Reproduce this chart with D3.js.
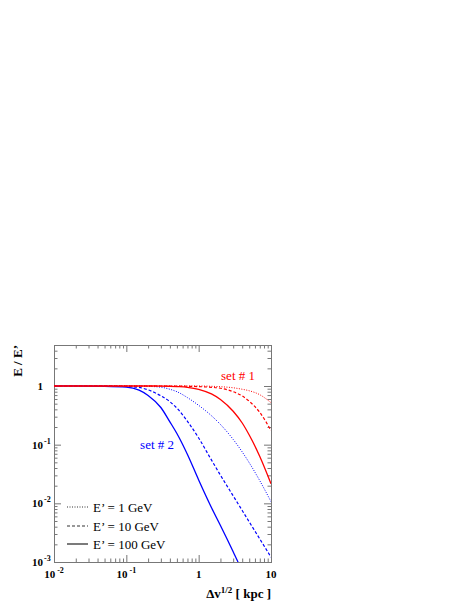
<!DOCTYPE html>
<html>
<head>
<meta charset="utf-8">
<script src="https://cdn.jsdelivr.net/npm/d3@7"></script>
<style>
  body { margin: 0; background: #fff; }
  text { font-family: "Liberation Serif", "Times New Roman", serif; }
</style>
</head>
<body>
<div id="chartDiv"></div>
<script>
  // values (E/E' against sqrt(delta v) in kpc)
  const xVals = [0.01, 0.02, 0.05, 0.1, 0.15, 0.2, 0.3, 0.4, 0.5, 0.7, 1, 1.5, 2, 3, 4, 5, 7, 10];

  // set # 2 (blue)
  const set2_1GeV = [1, 1, 1, 1, 0.995, 0.986, 0.955, 0.88, 0.80, 0.634, 0.468, 0.312, 0.221, 0.123, 0.0752, 0.0492, 0.0243, 0.0107];
  const set2_10GeV = [1, 1, 0.995, 0.98, 0.945, 0.86, 0.68, 0.54, 0.42, 0.25, 0.13, 0.055, 0.0302, 0.0134, 0.00755, 0.00483, 0.00247, 0.00121];
  const set2_100GeV = [1, 1, 0.99, 0.96, 0.85, 0.69, 0.43, 0.245, 0.155, 0.068, 0.025, 0.0085, 0.0042, 0.0015, 0.0007, 0.0004, null, null];

  // set # 1 (red)
  const set1_1GeV = [1, 1, 1, 1, 1, 1, 1, 1, 1, 1, 1, 0.989, 0.973, 0.933, 0.88, 0.83, 0.71, 0.52];
  const set1_10GeV = [1, 1, 1, 1, 1, 1, 1, 0.999, 0.997, 0.99, 0.977, 0.95, 0.916, 0.80, 0.676, 0.55, 0.355, 0.174];
  const set1_100GeV = [1, 1, 1, 1, 1, 1, 0.999, 0.989, 0.977, 0.95, 0.88, 0.733, 0.59, 0.371, 0.234, 0.146, 0.063, 0.0216];

  const legendLabels = ["E\u2019 = 1 GeV", "E\u2019 = 10 GeV", "E\u2019 = 100 GeV"];
  const xMajor = [0.01, 0.1, 1, 10];
  const yMajor = [0.001, 0.01, 0.1, 1];

  // set the dimensions and margins of the graph
  const margin = {top: 345, right: 197, bottom: 43, left: 54},
      width = 468 - margin.left - margin.right,
      height = 605 - margin.top - margin.bottom;

  const svg = d3.select("#chartDiv")
      .append("svg")
      .attr("width", 468)
      .attr("height", 605)
      .append("g")
      .attr("transform", "translate(" + margin.left + "," + margin.top + ")");

  const x = d3.scaleLog().domain([0.01, 10]).range([0, width]);
  const y = d3.scaleLog().domain([0.001, 5]).range([height, 0]);

  // minor ticks 2..9 in every decade
  const minorTicks = (lo, hi) => {
      const out = [];
      for (let p = lo; p < hi; p++) {
          for (let k = 2; k <= 9; k++) out.push(k * Math.pow(10, p));
      }
      return out;
  };
  const xMinor = minorTicks(-2, 1);
  const yMinor = minorTicks(-3, 1).filter(v => v < 5);

  const axisColor = "#777";

  function styleAxis(g) {
      g.select(".domain").attr("stroke", axisColor);
      g.selectAll(".tick line").attr("stroke", axisColor);
  }

  // ticks on all four sides, pointing inward
  const axes = [
      {ax: d3.axisBottom(x), pos: "translate(0," + height + ")", major: xMajor, minor: xMinor},
      {ax: d3.axisTop(x), pos: "translate(0,0)", major: xMajor, minor: xMinor},
      {ax: d3.axisLeft(y), pos: "translate(0,0)", major: yMajor, minor: yMinor},
      {ax: d3.axisRight(y), pos: "translate(" + width + ",0)", major: yMajor, minor: yMinor}
  ];
  axes.forEach(a => {
      svg.append("g").attr("transform", a.pos)
          .call(a.ax.tickValues(a.minor).tickSize(-3.5).tickFormat(""))
          .call(styleAxis);
      svg.append("g").attr("transform", a.pos)
          .call(a.ax.tickValues(a.major).tickSize(-7).tickFormat(""))
          .call(styleAxis);
  });

  // tick labels in the "10^n" style
  const expOf = v => Math.round(Math.log10(v));
  xMajor.forEach(v => {
      const e = expOf(v);
      const t = svg.append("text")
          .attr("x", x(v))
          .attr("y", height + 16)
          .attr("text-anchor", "middle")
          .style("font-size", "11px")
          .style("font-weight", "bold");
      if (e === 0) t.text("1");
      else if (e === 1) t.text("10");
      else {
          t.append("tspan").text("10");
          t.append("tspan").attr("dy", -5).style("font-size", "8px").text(" " + e);
      }
  });
  yMajor.forEach(v => {
      const e = expOf(v);
      const base = e === 0 ? "1" : "10";
      svg.append("text")
          .attr("x", -11)
          .attr("y", y(v) + 4)
          .attr("text-anchor", "end")
          .style("font-size", "11px")
          .style("font-weight", "bold")
          .text(base);
      if (e !== 0) {
          svg.append("text")
              .attr("x", -10)
              .attr("y", y(v) - 1)
              .style("font-size", "8px")
              .style("font-weight", "bold")
              .text(e);
      }
  });

  // axis titles
  const xt = svg.append("text")
      .attr("x", width)
      .attr("y", height + 36)
      .attr("text-anchor", "end")
      .style("font-size", "13px")
      .style("font-weight", "bold");
  xt.append("tspan").text("\u0394v");
  xt.append("tspan").attr("dy", -5).style("font-size", "9px").text("1/2");
  xt.append("tspan").attr("dy", 5).text(" [ kpc ]");

  svg.append("text")
      .attr("transform", "translate(" + (-32) + ",0) rotate(-90)")
      .attr("text-anchor", "end")
      .style("font-size", "13px")
      .style("font-weight", "bold")
      .text("E / E\u2019");

  // clip the curves to the frame
  svg.append("clipPath").attr("id", "plotClip")
      .append("rect").attr("width", width).attr("height", height);

  const line = d3.line()
      .defined(d => d[1] != null)
      .x(d => x(d[0]))
      .y(d => y(d[1]))
      .curve(d3.curveMonotoneX);

  const dashes = ["1,1.5", "3,2", null];
  const widths = [1, 1.2, 1.3];

  const series = [
      {vals: set2_1GeV, color: "#0000ff", k: 0},
      {vals: set2_10GeV, color: "#0000ff", k: 1},
      {vals: set2_100GeV, color: "#0000ff", k: 2},
      {vals: set1_1GeV, color: "#ff0000", k: 0},
      {vals: set1_10GeV, color: "#ff0000", k: 1},
      {vals: set1_100GeV, color: "#ff0000", k: 2}
  ];

  const curves = svg.append("g").attr("clip-path", "url(#plotClip)");
  series.forEach(s => {
      curves.append("path")
          .datum(xVals.map((xv, i) => [xv, s.vals[i]]))
          .attr("d", line)
          .attr("fill", "none")
          .attr("stroke", s.color)
          .attr("stroke-width", widths[s.k])
          .attr("stroke-dasharray", dashes[s.k]);
  });

  // set labels
  svg.append("text")
      .attr("x", x(2.04))
      .attr("y", y(1.25))
      .style("font-size", "13px")
      .attr("fill", "#ff0000")
      .text("set # 1");
  svg.append("text")
      .attr("x", x(0.155))
      .attr("y", y(0.084))
      .style("font-size", "13px")
      .attr("fill", "#0000ff")
      .text("set # 2");

  // legend
  const legendY = [162, 181, 199];
  legendLabels.forEach((lab, i) => {
      svg.append("line")
          .attr("x1", 13).attr("x2", 34)
          .attr("y1", legendY[i]).attr("y2", legendY[i])
          .attr("stroke", "#333")
          .attr("stroke-width", widths[i])
          .attr("stroke-dasharray", dashes[i]);
      svg.append("text")
          .attr("x", 39)
          .attr("y", legendY[i] + 4.5)
          .style("font-size", "13px")
          .text(lab);
  });
</script>
</body>
</html>
